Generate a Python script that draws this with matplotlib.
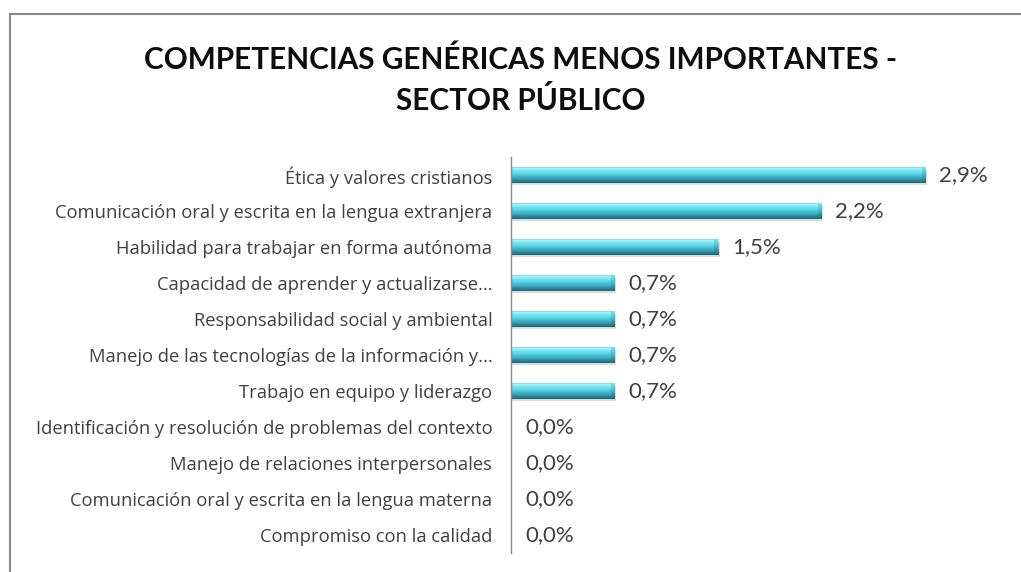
import numpy as np
import matplotlib
matplotlib.use("Agg")
import matplotlib.pyplot as plt
from matplotlib.colors import LinearSegmentedColormap
from matplotlib.lines import Line2D

# ---- data ----
title_line1 = "COMPETENCIAS GENÉRICAS MENOS IMPORTANTES -"
title_line2 = "SECTOR PÚBLICO"
categories = [
    "Ética y valores cristianos",
    "Comunicación oral y escrita en la lengua extranjera",
    "Habilidad para trabajar en forma autónoma",
    "Capacidad de aprender y actualizarse...",
    "Responsabilidad social y ambiental",
    "Manejo de las tecnologías de la información y...",
    "Trabajo en equipo y liderazgo",
    "Identificación y resolución de problemas del contexto",
    "Manejo de relaciones interpersonales",
    "Comunicación oral y escrita en la lengua materna",
    "Compromiso con la calidad",
]
values = [2.92, 2.19, 1.46, 0.73, 0.73, 0.73, 0.73, 0.0, 0.0, 0.0, 0.0]

W, H = 1021, 572
fig = plt.figure(figsize=(W / 100, H / 100), dpi=100)
fig.patch.set_facecolor("white")

ax = fig.add_axes([511 / W, 1 - 553 / H, (968 - 511) / W, (553 - 157) / H])
n = len(categories)
ypos = np.arange(n)[::-1]
bar_h = 0.44

cyl = LinearSegmentedColormap.from_list(
    "cyl",
    [(0.0, "#1b6475"), (0.15, "#2a8799"), (0.35, "#3db0c5"),
     (0.6, "#5ad6e9"), (0.8, "#7de8f5"), (0.92, "#b0f3fa"), (1.0, "#74cfdd")],
)
grad = np.linspace(0, 1, 64).reshape(-1, 1)

for y, v in zip(ypos, values):
    if v > 0:
        ax.barh(y - 0.07, v + 0.012, height=bar_h, color="#9a9a9a", alpha=0.35,
                edgecolor="none", zorder=1)
        ax.imshow(grad, cmap=cyl, aspect="auto", origin="lower",
                  extent=(0, v, y - bar_h / 2, y + bar_h / 2), zorder=2,
                  interpolation="bilinear")
        ax.imshow(grad * 0.75, cmap=cyl, aspect="auto", origin="lower", vmin=0, vmax=1,
                  extent=(v - 0.025, v, y - bar_h / 2, y + bar_h / 2), zorder=3,
                  interpolation="bilinear")
    lab = f"{v:.1f}".replace(".", ",") + "%"
    ax.annotate(lab, xy=(v, y), xytext=(10, 0), textcoords="offset points",
                va="center", ha="left", fontsize=16, color="#404040",
                family=["Lato", "DejaVu Sans"])

ax.set_xlim(0, (968 - 511) / 141.8)
ax.set_ylim(-0.5, n - 0.5)
ax.set_yticks(ypos)
ax.set_yticklabels(categories, fontsize=13.2, color="#404040",
                   family=["Open Sans", "DejaVu Sans"])
ax.tick_params(axis="y", length=0, pad=13.5)
ax.set_xticks([])
for s in ["top", "right", "bottom"]:
    ax.spines[s].set_visible(False)
ax.spines["left"].set_color("#868686")
ax.spines["left"].set_linewidth(1.0)
ax.set_facecolor("none")

tfam = ["Lato", "DejaVu Sans"]
t1 = fig.text(521 / W, 1 - 69 / H, title_line1, ha="center", va="baseline",
              fontsize=21, fontweight="bold", family=tfam, color="#0d0d0d")
t2 = fig.text(521 / W, 1 - 110 / H, title_line2, ha="center", va="baseline",
              fontsize=21, fontweight="bold", family=tfam, color="#0d0d0d")
# fit title width to the reference line width (~752 px)
fig.canvas.draw()
w1 = t1.get_window_extent().width
fs = 21 * 752 / w1
t1.set_fontsize(fs)
t2.set_fontsize(fs)

fig.add_artist(Line2D([10 / W, 1.0], [1 - 14 / H, 1 - 14 / H], color="#8a8a8a", lw=1.5,
                      transform=fig.transFigure))
fig.add_artist(Line2D([10 / W, 10 / W], [0, 1 - 14 / H], color="#8a8a8a", lw=1.5,
                      transform=fig.transFigure))

fig.savefig("out.png", dpi=100, facecolor="white")
